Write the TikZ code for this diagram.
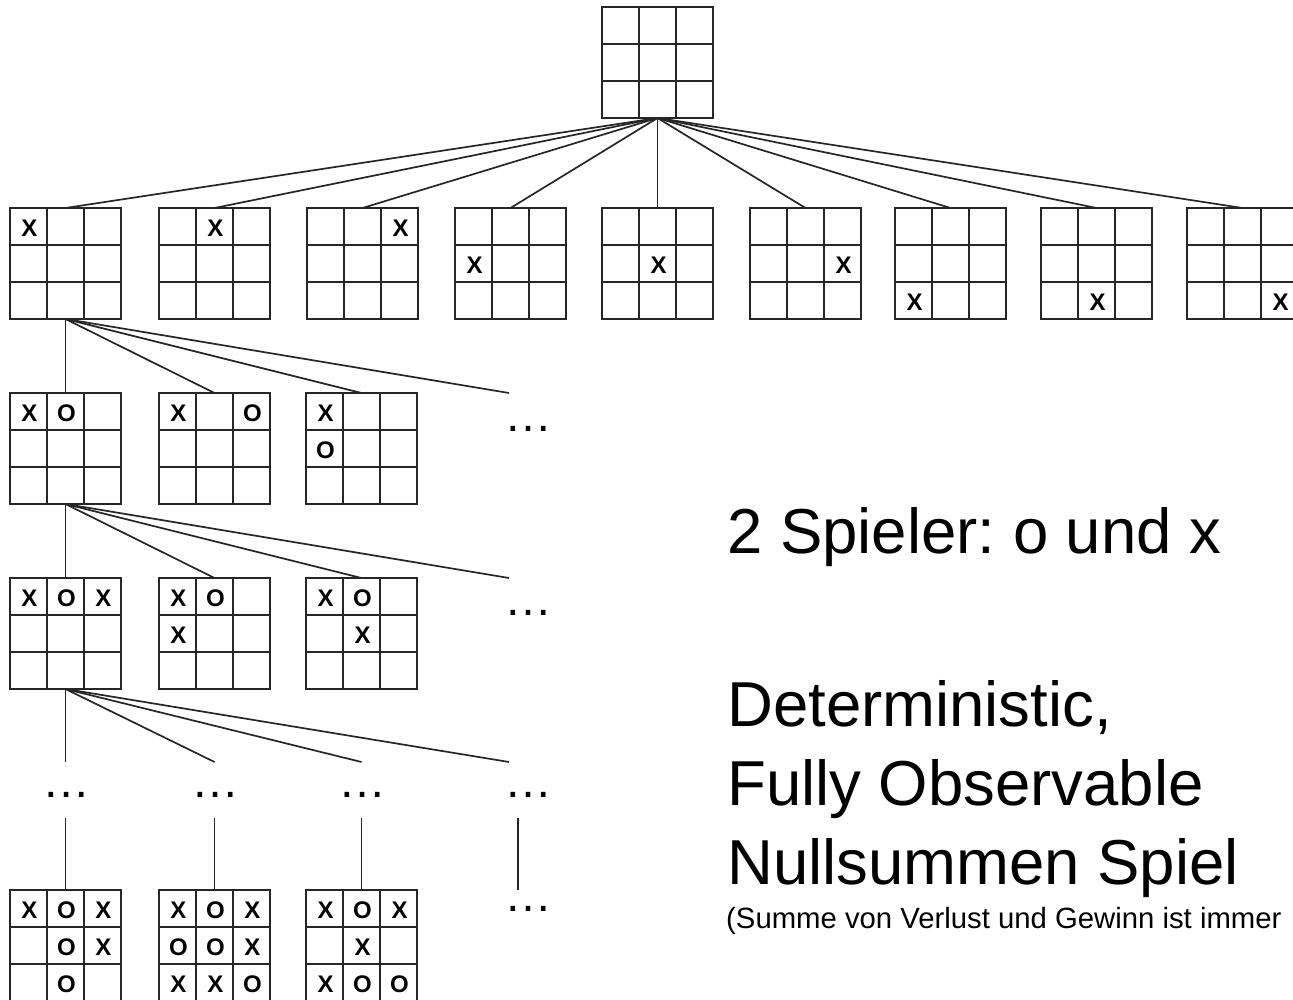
\documentclass[tikz,border=0pt]{standalone}
\usepackage{fontspec}
\setmainfont{Liberation Sans}
\usetikzlibrary{calc}
\frenchspacing
\newcommand\tttb[3]{%
  \node[board] (#1) at (#2,#3) {};
  \draw[gridline] ($(#1.north west)+(37,0)$) -- ($(#1.south west)+(37,0)$)
    ($(#1.north west)+(74,0)$) -- ($(#1.south west)+(74,0)$)
    ($(#1.north west)+(0,37)$) -- ($(#1.north east)+(0,37)$)
    ($(#1.north west)+(0,74)$) -- ($(#1.north east)+(0,74)$);
}
\newcommand\mk[4]{\node[xomark] at ($(#1.north west)+(#2*37-17.5,#3*37-17)$) {#4};}
\begin{document}
\begin{tikzpicture}[x=1pt,y=-1pt,
  board/.style={draw=black!85, line width=1.7pt, minimum width=111pt, minimum height=111pt, inner sep=0pt, outer sep=0pt},
  gridline/.style={draw=black!85, line width=1.7pt},
  edge/.style={draw=black!85, line width=1.7pt},
  xomark/.style={font=\fontsize{24}{24}\selectfont\bfseries, inner sep=0pt},
  dots/.style={font=\fontsize{48}{48}\selectfont, inner sep=0pt, anchor=base},
  big/.style={font=\fontsize{63.5}{76}\selectfont, inner sep=0pt, anchor=base west},
  small/.style={font=\fontsize{29.3}{34}\selectfont, inner sep=0pt, anchor=base west}
]
\useasboundingbox (0,0) rectangle (1293,1000);

% root
\tttb{top}{657.5}{62.5}

% level 1
\tttb{ra}{65.5}{263.5}   \mk{ra}{1}{1}{X}
\tttb{rb}{214.5}{263.5}  \mk{rb}{2}{1}{X}
\tttb{rc}{362.5}{263.5}  \mk{rc}{3}{1}{X}
\tttb{rd}{510.5}{263.5}  \mk{rd}{1}{2}{X}
\tttb{re}{657.5}{263.5}  \mk{re}{2}{2}{X}
\tttb{rf}{805.5}{263.5}  \mk{rf}{3}{2}{X}
\tttb{rg}{950.5}{263.5}  \mk{rg}{1}{3}{X}
\tttb{rh}{1096.5}{263.5} \mk{rh}{2}{3}{X}
\tttb{ri}{1242.5}{263.5} \mk{ri}{3}{3}{X}

\foreach \n in {ra,rb,rc,rd,re,rf,rg,rh,ri} \draw[edge] (top.south) -- (\n.north);

% level 2
\tttb{sa}{65.5}{448.5}  \mk{sa}{1}{1}{X} \mk{sa}{2}{1}{O}
\tttb{sb}{214.5}{448.5} \mk{sb}{1}{1}{X} \mk{sb}{3}{1}{O}
\tttb{sc}{361.5}{448.5} \mk{sc}{1}{1}{X} \mk{sc}{1}{2}{O}
\coordinate (se) at (509,393);
\node[dots] (sd) at (528,431) {…};
\foreach \n in {sa,sb,sc} \draw[edge] (ra.south) -- (\n.north);
\draw[edge] (ra.south) -- (se);

% level 3
\tttb{ta}{65.5}{633.5}  \mk{ta}{1}{1}{X} \mk{ta}{2}{1}{O} \mk{ta}{3}{1}{X}
\tttb{tb}{214.5}{633.5} \mk{tb}{1}{1}{X} \mk{tb}{2}{1}{O} \mk{tb}{1}{2}{X}
\tttb{tc}{361.5}{633.5} \mk{tc}{1}{1}{X} \mk{tc}{2}{1}{O} \mk{tc}{2}{2}{X}
\coordinate (te) at (509,578);
\node[dots] (td) at (528,615) {…};
\foreach \n in {ta,tb,tc} \draw[edge] (sa.south) -- (\n.north);
\draw[edge] (sa.south) -- (te);

% level 4
\coordinate (ua) at (65.5,762);
\coordinate (ub) at (214.5,762);
\coordinate (uc) at (361.5,762);
\coordinate (ud) at (509,762);
\foreach \n in {ua,ub,uc,ud} \draw[edge] (ta.south) -- (\n);
\node[dots] (da) at (66.5,797) {…};
\node[dots] (db) at (215.5,797) {…};
\node[dots] (dc) at (362,797) {…};
\node[dots] (dd) at (528,797) {…};

% level 5
\tttb{va}{65.5}{945.5}
  \mk{va}{1}{1}{X} \mk{va}{2}{1}{O} \mk{va}{3}{1}{X}
  \mk{va}{2}{2}{O} \mk{va}{3}{2}{X}
  \mk{va}{2}{3}{O}
\tttb{vb}{214.5}{945.5}
  \mk{vb}{1}{1}{X} \mk{vb}{2}{1}{O} \mk{vb}{3}{1}{X}
  \mk{vb}{1}{2}{O} \mk{vb}{2}{2}{O} \mk{vb}{3}{2}{X}
  \mk{vb}{1}{3}{X} \mk{vb}{2}{3}{X} \mk{vb}{3}{3}{O}
\tttb{vc}{361.5}{945.5}
  \mk{vc}{1}{1}{X} \mk{vc}{2}{1}{O} \mk{vc}{3}{1}{X}
  \mk{vc}{2}{2}{X}
  \mk{vc}{1}{3}{X} \mk{vc}{2}{3}{O} \mk{vc}{3}{3}{O}
\coordinate (wa) at (518,818);
\coordinate (wb) at (518,890);
\node[dots] (vd) at (528,911) {…};
\coordinate (xa) at (65.5,818);
\coordinate (xb) at (214.5,818);
\coordinate (xc) at (361.5,818);
\foreach \n/\m in {xa/va,xb/vb,xc/vc} \draw[edge] (\n) -- (\m.north);
\draw[edge] (wa) -- (wb);

% text
\node[big] (t1) at (727,553) {2 Spieler: o und x};
\node[big] (t2) at (727,726) {Deterministic,};
\node[big] (t3) at (727,805) {Fully Observable};
\node[big] (t4) at (727,884) {Nullsummen Spiel};
\node[small] (t5) at (726,928) {(Summe von Verlust und Gewinn ist immer};
\end{tikzpicture}
\end{document}
